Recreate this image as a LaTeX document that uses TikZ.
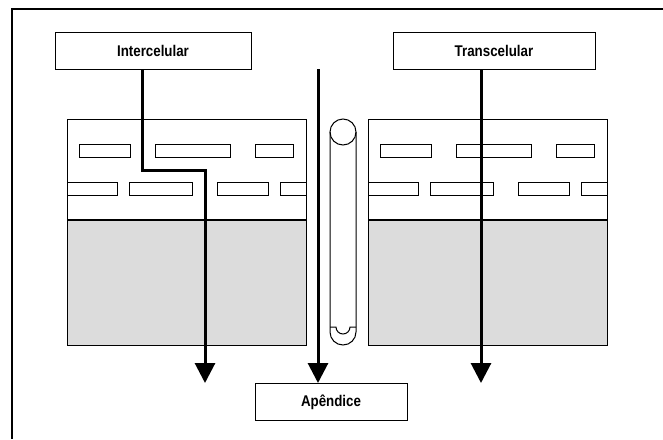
\documentclass[tikz,border=0pt]{standalone}
\usepackage{fontspec}
\setmainfont{Liberation Sans}[FakeStretch=0.86]
\usetikzlibrary{arrows.meta}
\definecolor{cytgray}{RGB}{220,220,220}

\begin{document}
\begin{tikzpicture}[x=1pt,y=-1pt,
    routebox/.style={draw,line width=1pt,minimum width=#1,minimum height=37pt,
        inner sep=0pt,font=\bfseries\fontsize{15.5}{18}\selectfont},
    slot/.style={draw,line width=1pt,fill=white},
    flow/.style={line width=3pt,-{Triangle[width=20pt,length=20pt]}}]
        \useasboundingbox (0,0) rectangle (663,439);
        \draw[line width=2pt] (663,9) -- (12,9) -- (12,439);
        % two cell blocks
        \foreach \dx in {0,301} {
            \fill[cytgray] (67+\dx,220) rectangle (306+\dx,345);
            \draw[line width=1pt] (67+\dx,119) rectangle (306+\dx,345);
            \draw[line width=1.3pt] (67+\dx,220) -- (306+\dx,220);
            \draw[slot] (79.5+\dx,144) rectangle (130+\dx,157);
            \draw[slot] (155+\dx,144) rectangle (230+\dx,157);
            \draw[slot] (255+\dx,144) rectangle (293+\dx,157);
            \draw[slot] (67+\dx,182) rectangle (117.5+\dx,195);
            \draw[slot] (129+\dx,182) rectangle (192+\dx,195);
            \draw[slot] (217+\dx,182) rectangle (268+\dx,195);
            \draw[slot] (280+\dx,182) -- (306+\dx,182) (306+\dx,195) -- (280+\dx,195) -- (280+\dx,182);
        }
        % tube between the cells
        \draw[line width=1pt] (343,132) circle (13pt);
        \draw[line width=1pt] (330,132) -- (330,332) arc[start angle=180,end angle=360,radius=13pt] -- (356,132);
        \draw[line width=1pt] (330,327) -- (336,327) arc[start angle=180,end angle=360,radius=7pt] -- (356,327);
        % labels
        \node[routebox=196pt] (inter) at (153,50.5) {Intercelular};
        \node[routebox=202pt] (trans) at (494,50.5) {Transcelular};
        \node[routebox=152pt] (apx) at (331,402) {Apêndice};
        % routes
        \coordinate (interend) at (205,383);
        \coordinate (midtop) at (318,69);
        \coordinate (transend) at (481,383);
        \draw[flow] ([xshift=-11pt]inter.south) -- ++(0,101) -| (interend);
        \draw[flow] (midtop) -- ([xshift=-13pt]apx.north);
        \draw[flow] ([xshift=-13pt]trans.south) -- (transend);
\end{tikzpicture}
\end{document}
